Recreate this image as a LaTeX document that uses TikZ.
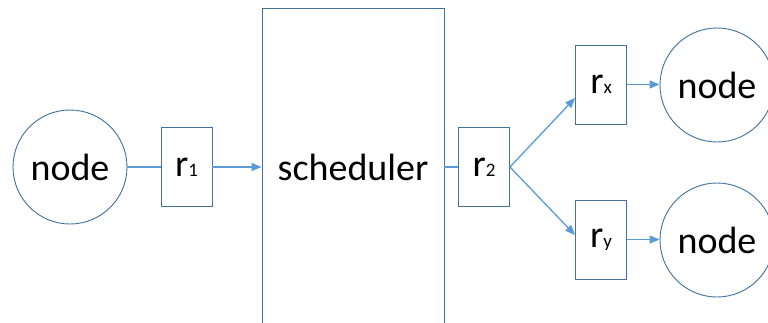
\documentclass[tikz,border=0pt]{standalone}
\usepackage{fontspec}
\setmainfont{Carlito}
\usetikzlibrary{arrows.meta,calc}
\definecolor{edgeblue}{RGB}{65,113,156}
\definecolor{linkblue}{RGB}{91,155,213}
\newcommand{\sub}[1]{{\fontsize{19}{19}\selectfont #1}}
\tikzset{
  every node/.style={font=\fontsize{38}{40}\selectfont, text=black},
  peer/.style={circle, draw=edgeblue, line width=0.9pt, fill=white, minimum size=114pt, inner sep=0pt},
  relay/.style={rectangle, draw=edgeblue, line width=0.9pt, fill=white, minimum width=51pt, minimum height=79pt, inner sep=0pt},
  link/.style={draw=linkblue, line width=1.3pt},
  flow/.style={link, -{Triangle[length=10pt,width=8pt]}}
}
\begin{document}
\begin{tikzpicture}[x=1pt,y=-1pt]
  \useasboundingbox (0,0) rectangle (768,322);
  \clip (0,0) rectangle (768,322);
  \fill[white] (0,0) rectangle (768,322);

  % nodes
  \node[peer] (src) at (70,167) {node};
  \node[relay] (r1) at (186.5,167) {r\sub{1}};
  \node[rectangle, draw=edgeblue, line width=0.9pt, minimum width=182pt, minimum height=318pt, inner sep=0pt] (sched) at (353,167) {scheduler};
  \node[relay] (r2) at (484,167) {r\sub{2}};
  \node[relay] (rx) at (601,84.5) {r\sub{x}};
  \node[relay] (ry) at (601,239.5) {r\sub{y}};
  \node[peer] (dx) at (717,85) {node};
  \node[peer] (dy) at (717,240) {node};

  % connectors
  \draw[link] (src) -- (r1);
  \draw[flow] (r1) -- (sched);
  \draw[link] (sched.east |- r2.west) -- (r2.west);
  \draw[flow] (r2.east) -- ($(rx.west)+(0,13.5)$);
  \draw[flow] (r2.east) -- ($(ry.west)+(0,-4.5)$);
  \draw[flow] (rx.east) -- (rx.east -| dx.west);
  \draw[flow] (ry.east) -- (ry.east -| dy.west);
\end{tikzpicture}
\end{document}
